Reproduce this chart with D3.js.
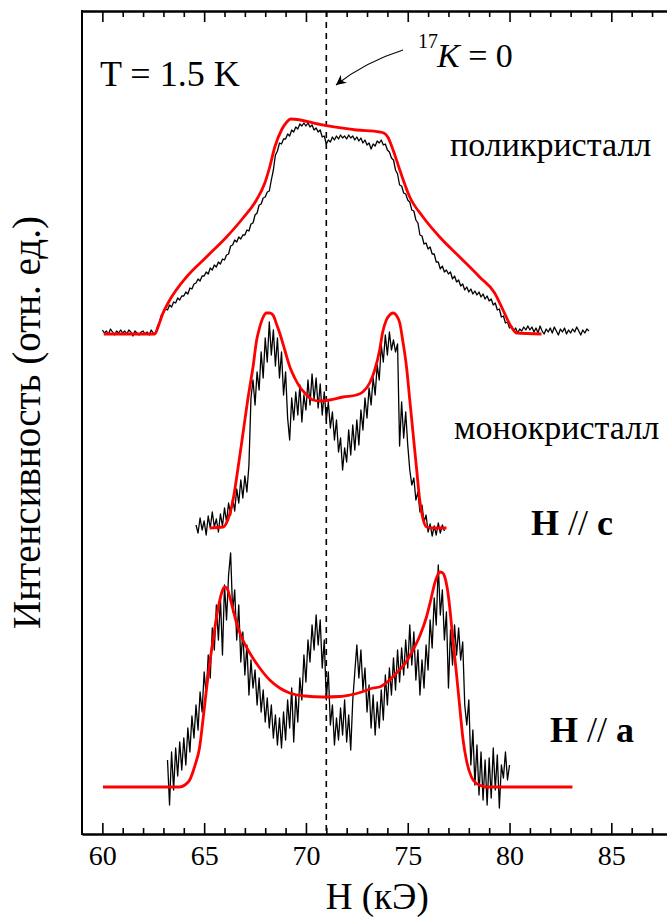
<!DOCTYPE html>
<html><head><meta charset="utf-8">
<script src="https://cdn.jsdelivr.net/npm/d3@7"></script>
<style>
body{margin:0;background:#fff}
svg{display:block}
</style>
</head><body>
<svg id="c" width="667" height="917"></svg>
<script>
// ---------- data ----------
const xMajorTicks = [60, 65, 70, 75, 80, 85];
const xMinorTicks = [61,62,63,64,66,67,68,69,71,72,73,74,76,77,78,79,81,82,83,84,86,87];
const zeroShiftH = 71.0;   // 17K = 0 position
const sampleStep = 0.1;    // kOe between measured points

// polycrystal, measured (start 60.0 kOe)
const polyStart = 60.0;
const polyI = [
504,501,503,500,505,502,499,503,501,504,
501,503,500,504,502,498,503,501,499,502,
503,500,502,499,504,501,500,507,512,519,
521,525,524,529,527,532,531,536,534,538,
538,542,540,546,545,550,551,555,553,558,
558,562,560,566,564,569,567,572,570,575,
574,579,580,588,589,594,592,597,595,599,
599,604,603,610,611,619,621,629,630,636,
637,642,643,654,664,679,683,691,690,695,
695,700,698,704,702,707,705,710,708,711,
708,711,707,709,704,706,702,704,697,698,
690,694,692,697,694,698,695,699,696,698,
695,699,696,698,694,697,693,696,691,694,
689,691,685,690,688,693,691,694,689,690,
684,682,676,674,664,660,649,648,641,640,
634,632,624,623,614,611,599,598,590,591,
585,587,580,580,572,572,565,568,562,564,
560,562,555,558,552,554,548,550,544,547,
542,545,540,543,539,542,537,540,535,538,
533,535,529,531,524,525,517,518,511,512,
506,508,503,506,501,505,503,507,504,508,
504,507,502,506,501,508,503,500,505,502,
506,501,507,503,499,505,502,506,500,504,
501,505,502,507,503,499,504,501,505,503];

// polycrystal, calculated
const polyFitH = [60.07,62.57,62.77,62.98,63.31,64.13,65.11,66.10,66.91,67.57,67.98,68.22,68.47,68.80,69.06,69.25,70.84,72.48,73.62,73.82,74.02,74.28,74.61,75.10,75.75,76.57,77.55,78.53,79.27,79.68,80.09,80.34,81.57];
const polyFitI = [500,500,509,521,534,557,577,597,616,634,651,667,687,704,712,715,709,704,702,701,697,684,664,637,617,597,577,557,541,524,507,501,500];

// single crystal H // c, measured (start 64.6 kOe)
const monoCStart = 64.6;
const monoCI = [
309,301,316,304,
313,299,318,306,322,307,315,302,320,308,
326,312,331,319,336,323,345,331,354,336,
358,342,369,436,454,429,462,444,482,456,
496,472,512,479,504,468,496,456,482,439,
462,416,394,436,414,442,419,449,412,439,
424,454,429,460,434,456,426,450,419,442,
414,432,406,422,394,414,382,396,364,386,
372,404,379,409,384,414,389,424,404,436,
416,446,429,456,439,469,454,489,472,499,
479,502,484,494,482,490,388,432,396,422,
389,364,349,356,334,342,322,329,312,319,
302,310,298,308,299,311,301,309,303];

// single crystal H // c, calculated
const monoCFitH = [65.28,65.93,66.16,66.42,66.65,66.91,67.14,67.40,67.58,67.73,67.88,68.06,68.22,68.38,68.57,68.71,68.96,69.21,69.45,69.70,69.99,70.35,70.68,71.17,71.82,72.48,72.79,73.13,73.38,73.62,73.77,73.95,74.11,74.28,74.46,74.61,74.75,74.94,75.10,75.26,75.44,75.59,75.74,75.92,76.23,76.90];
const monoCFitI = [306,307,314,334,364,401,434,467,494,507,516,521,521,519,509,501,484,467,456,447,440,434,433,434,437,439,442,451,464,484,502,514,519,521,518,511,494,467,434,401,364,334,316,307,306,306];

// single crystal H // a, measured (start 63.2 kOe)
const monoAStart = 63.2;
const monoAI = [
74,29,82,44,86,58,92,64,
96,69,106,82,118,96,129,104,142,122,
162,139,179,156,206,184,229,194,236,179,
249,214,259,281,222,244,194,229,172,202,
159,189,139,174,146,164,129,156,122,144,
112,136,106,129,96,119,89,116,86,122,
94,134,106,146,92,139,112,156,134,179,
152,194,172,209,184,219,189,214,166,194,
134,162,109,129,89,116,94,126,99,134,
92,119,84,134,162,189,156,184,144,166,
122,149,106,139,99,132,106,144,114,159,
129,166,139,176,144,184,152,186,159,194,
166,209,169,202,154,184,139,174,146,189,
164,214,186,236,209,269,219,244,194,222,
146,204,169,209,179,206,174,192,129,109,
134,69,104,49,89,39,82,34,74,29,
76,36,86,44,79,26,69,56,82,54,
69];

// single crystal H // a, calculated
const monoAFitH = [60.03,63.80,64.05,64.29,64.54,64.78,64.93,65.11,65.28,65.44,65.60,65.77,65.89,66.01,66.14,66.26,66.40,66.59,66.90,67.24,67.73,68.22,68.71,69.20,69.94,70.84,71.66,72.15,72.74,73.30,73.62,74.11,74.45,74.85,75.26,75.59,75.92,76.13,76.33,76.45,76.57,76.69,76.82,76.94,77.06,77.21,77.39,77.55,77.72,77.90,78.13,78.34,78.53,78.83,83.09];
const monoAFitI = [47,47,49,54,68,87,112,144,172,194,216,234,243,247,245,237,226,211,194,181,166,154,146,141,138,137,137.5,139,142,146,147,154,161,170,184,198,217,234,251,258,262,261.5,257,246,227,196,161,128,94,72,57,51,49,47,47];

// ---------- chart ----------
const FONT = "'Liberation Serif', 'Times New Roman', Times, 'DejaVu Serif', serif";
const svg = d3.select('#c').attr('font-family', FONT);
const x = d3.scaleLinear().domain([59, 88]).range([82, 672.4]);
const y = d3.scaleLinear().domain([0, 823]).range([834, 11]);

const toPts = (start, vals) => vals.map((v, i) => [start + i * sampleStep, v]);
const zipPts = (hs, vs) => hs.map((h, i) => [h, vs[i]]);

const rawLine = d3.line().x(d => x(d[0])).y(d => y(d[1]));
const fitLine = d3.line().x(d => x(d[0])).y(d => y(d[1])).curve(d3.curveMonotoneX);

// dashed reference line
svg.append('line')
  .attr('x1', x(zeroShiftH)).attr('x2', x(zeroShiftH))
  .attr('y1', y(823)).attr('y2', y(0))
  .attr('stroke', '#000').attr('stroke-width', 1.6)
  .attr('stroke-dasharray', '6,5');

// measured spectra
[[polyStart, polyI], [monoCStart, monoCI], [monoAStart, monoAI]].forEach(([s, v]) => {
  svg.append('path').datum(toPts(s, v))
    .attr('d', rawLine).attr('fill', 'none')
    .attr('stroke', '#000').attr('stroke-width', 1.3).attr('stroke-linejoin', 'round');
});

// calculated spectra
[[polyFitH, polyFitI], [monoCFitH, monoCFitI], [monoAFitH, monoAFitI]].forEach(([h, v]) => {
  svg.append('path').datum(zipPts(h, v))
    .attr('d', fitLine).attr('fill', 'none')
    .attr('stroke', '#ff0000').attr('stroke-width', 2.8).attr('stroke-linejoin', 'round');
});

// axes
const gB = svg.append('g').attr('transform', `translate(0,${y(0)})`);
gB.call(d3.axisBottom(x).tickValues(xMinorTicks).tickSizeInner(-6).tickSizeOuter(0).tickFormat(''));
const gB2 = svg.append('g').attr('transform', `translate(0,${y(0)})`);
gB2.call(d3.axisBottom(x).tickValues(xMajorTicks).tickSizeInner(-11).tickSizeOuter(0).tickPadding(11).tickFormat(d3.format('d')));
const gT = svg.append('g').attr('transform', `translate(0,${y(823)})`);
gT.call(d3.axisTop(x).tickValues(xMinorTicks).tickSizeInner(-6).tickSizeOuter(0).tickFormat(''));
const gT2 = svg.append('g').attr('transform', `translate(0,${y(823)})`);
gT2.call(d3.axisTop(x).tickValues(xMajorTicks).tickSizeInner(-11).tickSizeOuter(0).tickFormat(''));
[gB, gB2, gT, gT2].forEach(g => {
  g.attr('font-family', FONT);
  g.select('.domain').attr('stroke', '#000').attr('stroke-width', 2);
  g.selectAll('.tick line').attr('stroke', '#000').attr('stroke-width', 1.6);
});
gB2.selectAll('.tick text').attr('font-size', 28).attr('font-family', FONT).attr('fill', '#000');
svg.append('line').attr('x1', x(59)).attr('x2', x(59)).attr('y1', y(823) - 1).attr('y2', y(0) + 1)
  .attr('stroke', '#000').attr('stroke-width', 2);

// axis titles
svg.append('text').attr('x', (x(59) + x(88)) / 2).attr('y', 909).attr('font-family', FONT)
  .attr('text-anchor', 'middle').attr('font-size', 37).text('H (кЭ)');
svg.append('text').attr('transform', `translate(40,${(y(0) + y(823)) / 2}) rotate(-90)`).attr('font-family', FONT)
  .attr('text-anchor', 'middle').attr('font-size', 39).text('Интенсивность (отн. ед.)');

// annotations
svg.append('text').attr('x', 100).attr('y', 86).attr('font-size', 36).attr('font-family', FONT).text('T = 1.5 K');
svg.append('text').attr('x', 418).attr('y', 48).attr('font-size', 20).attr('font-family', FONT).text('17');
const kt = svg.append('text').attr('x', 437).attr('y', 67).attr('font-size', 34).attr('font-family', FONT);
kt.append('tspan').attr('font-style', 'italic').text('K');
kt.append('tspan').text(' = 0');

svg.append('defs').append('marker').attr('id', 'ah').attr('viewBox', '0 0 10 10')
  .attr('refX', 10).attr('refY', 5).attr('markerWidth', 14).attr('markerHeight', 10)
  .attr('markerUnits', 'userSpaceOnUse').attr('orient', 'auto')
  .append('path').attr('d', 'M0,0 L10,5 L0,10 L3,5 Z').attr('fill', '#000');
svg.append('path').attr('d', 'M403,50 Q365,62 336,85').attr('fill', 'none')
  .attr('stroke', '#000').attr('stroke-width', 1.1).attr('marker-end', 'url(#ah)');

svg.append('text').attr('x', 450).attr('y', 156).attr('font-size', 34).attr('font-family', FONT).text('поликристалл');
svg.append('text').attr('x', 454).attr('y', 439).attr('font-size', 34).attr('font-family', FONT).text('монокристалл');

function hLabel(px, py, letter) {
  const t = svg.append('text').attr('x', px).attr('y', py).attr('font-size', 36).attr('font-family', FONT);
  t.append('tspan').attr('font-weight', 'bold').text('H');
  t.append('tspan').text(' // ');
  t.append('tspan').attr('font-weight', 'bold').text(letter);
}
hLabel(531, 535, 'c');
hLabel(550, 742, 'a');
</script>
</body></html>
